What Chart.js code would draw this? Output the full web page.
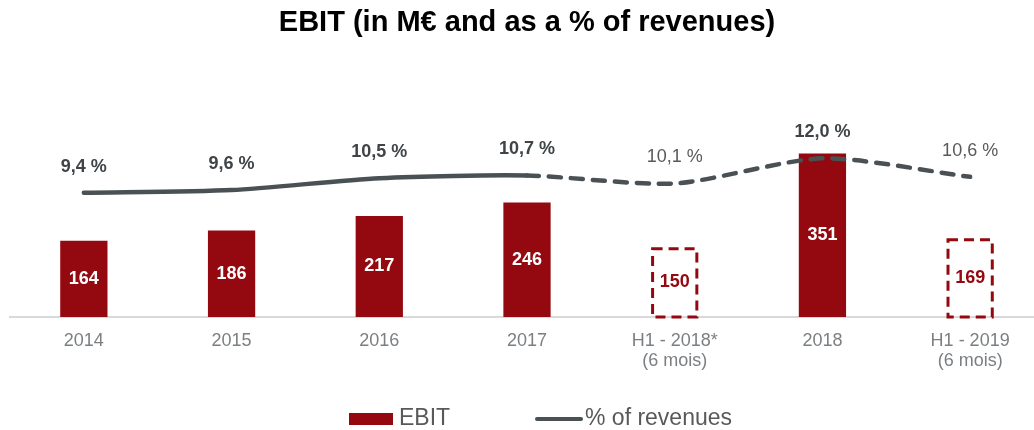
<!DOCTYPE html>
<html>
<head>
<meta charset="utf-8">
<title>EBIT</title>
<script src="https://cdn.jsdelivr.net/npm/chart.js@4.4.1/dist/chart.umd.min.js"></script>
<style>
  html, body { margin: 0; padding: 0; background: #fff; overflow: hidden; }
  #wrap { position: relative; width: 1044px; height: 430px; }
</style>
</head>
<body>
<div id="wrap"><canvas id="ebitChart"></canvas></div>
<script>
const categories = ['2014', '2015', '2016', '2017', ['H1 - 2018*', '(6 mois)'], '2018', ['H1 - 2019', '(6 mois)']];
const ebit = [164, 186, 217, 246, 150, 351, 169];
const ebitMargin = [9.4, 9.6, 10.5, 10.7, 10.1, 12.0, 10.6];
const halfYear = [false, false, false, false, true, false, true];

const RED = '#93090f';
const LINE = '#4a5155';
const FONT = '"Liberation Sans", Arial, sans-serif';

const formatPct = v => v.toFixed(1).replace('.', ',') + ' %';

// dashed outline for the half-year bars (bars can't do dashed borders)
const halfYearBoxes = {
    id: 'halfYearBoxes',
    afterDatasetDraw(chart, args) {
        if (args.index !== 0) return;
        const ctx = chart.ctx;
        ctx.save();
        ctx.strokeStyle = RED;
        ctx.lineWidth = 3;
        ctx.setLineDash([10, 6]);
        args.meta.data.forEach((bar, i) => {
            if (!halfYear[i]) return;
            const { x, y, base, width } = bar.getProps(['x', 'y', 'base', 'width'], true);
            ctx.strokeRect(x - width / 2 + 1.5, y + 1.5, width - 3, base - y - 1.5);
        });
        ctx.restore();
    }
};

const valueLabels = {
    id: 'valueLabels',
    afterDatasetsDraw(chart) {
        const ctx = chart.ctx;
        ctx.save();
        ctx.textAlign = 'center';
        ctx.textBaseline = 'middle';
        chart.getDatasetMeta(0).data.forEach((bar, i) => {
            ctx.font = 'bold 18px ' + FONT;
            ctx.fillStyle = halfYear[i] ? RED : '#ffffff';
            ctx.fillText(ebit[i], bar.x, (bar.y + bar.base) / 2);
        });
        chart.getDatasetMeta(1).data.forEach((pt, i) => {
            ctx.font = (halfYear[i] ? '' : 'bold ') + '18px ' + FONT;
            ctx.fillStyle = halfYear[i] ? '#595959' : '#3f4447';
            ctx.fillText(formatPct(ebitMargin[i]), pt.x, pt.y - 26);
        });
        ctx.restore();
    }
};

const bottomLegend = {
    id: 'bottomLegend',
    afterDraw(chart) {
        const ctx = chart.ctx;
        const cx = chart.width / 2;
        const y = chart.height - 11;
        const sets = chart.data.datasets;
        ctx.save();
        ctx.font = '23px ' + FONT;
        ctx.textBaseline = 'middle';

        ctx.fillStyle = RED;
        ctx.fillRect(cx - 173, y - 6, 44, 12);
        ctx.fillStyle = '#595959';
        ctx.fillText(sets[0].label, cx - 123, y);

        ctx.strokeStyle = LINE;
        ctx.lineWidth = 4;
        ctx.lineCap = 'round';
        ctx.beginPath();
        ctx.moveTo(cx + 15, y);
        ctx.lineTo(cx + 59, y);
        ctx.stroke();
        ctx.fillText(sets[1].label, cx + 63, y);
        ctx.restore();
    }
};

new Chart(document.getElementById('ebitChart'), {
    data: {
        labels: categories,
        datasets: [{
            type: 'bar',
            label: 'EBIT',
            data: ebit,
            yAxisID: 'y',
            backgroundColor: halfYear.map(h => h ? 'rgba(0,0,0,0)' : RED),
            barPercentage: 0.32,
            categoryPercentage: 1,
            order: 1
        }, {
            type: 'line',
            label: '% of revenues',
            data: ebitMargin,
            yAxisID: 'y1',
            borderColor: LINE,
            borderWidth: 4.5,
            borderCapStyle: 'round',
            borderJoinStyle: 'round',
            tension: 0.25,
            pointRadius: 0,
            order: 0,
            segment: {
                borderDash: c => c.p0DataIndex >= 3 ? [12, 10] : undefined
            }
        }]
    },
    options: {
        responsive: true,
        maintainAspectRatio: false,
        animation: false,
        layout: { padding: { left: 10, right: 0, top: 0, bottom: 45 } },
        plugins: {
            legend: { display: false },
            tooltip: { enabled: false },
            title: {
                display: true,
                text: 'EBIT (in M€ and as a % of revenues)',
                color: '#000',
                font: { family: FONT, size: 29, weight: 'bold' },
                padding: { top: 6, bottom: 62 }
            }
        },
        scales: {
            x: {
                grid: { display: false, drawTicks: false },
                border: { color: '#d9d9d9', width: 2 },
                ticks: {
                    color: '#7b7f82',
                    font: { family: FONT, size: 18, lineHeight: 1.111 },
                    padding: 14,
                    maxRotation: 0,
                    autoSkip: false
                }
            },
            y: { display: false, min: 0, max: 460 },
            y1: { display: false, min: 0, max: 16.2, position: 'right' }
        }
    },
    plugins: [halfYearBoxes, valueLabels, bottomLegend]
});
</script>
</body>
</html>
